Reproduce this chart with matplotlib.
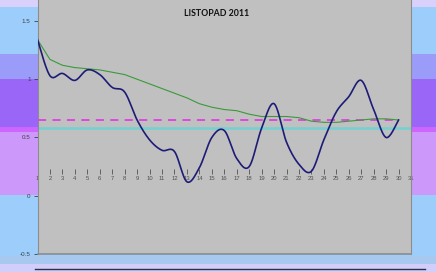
"""
LISTOPAD 2011 - daily index with running mean
"""
import numpy as np
import matplotlib
matplotlib.use('Agg')
import matplotlib.pyplot as plt

# --- data ---
days = list(range(1, 31))
daily = [1.34, 1.03, 1.05, 0.99, 1.08, 1.04, 0.93, 0.89, 0.65, 0.48,
         0.39, 0.38, 0.12, 0.24, 0.50, 0.56, 0.32, 0.25, 0.58, 0.79,
         0.46, 0.27, 0.21, 0.48, 0.72, 0.85, 0.99, 0.74, 0.50, 0.65]
running_mean = [1.34, 1.17, 1.12, 1.10, 1.09, 1.08, 1.06, 1.04, 1.00, 0.96,
                0.92, 0.88, 0.84, 0.79, 0.76, 0.74, 0.73, 0.70, 0.68, 0.68,
                0.68, 0.67, 0.64, 0.63, 0.63, 0.64, 0.65, 0.66, 0.66, 0.65]
month_mean = 0.65
normal_value = 0.58
x_ticks = list(range(1, 32))
y_ticks = [1.5, 1, 0.5, 0, -0.5]
y_labels = ['1.5', '1', '0.5', '0', '-0.5']
title = 'LISTOPAD 2011'

W, H = 436, 272
BG_BANDS = [  # (top px, bottom px, colour) of the coloured backdrop
    (0, 7, '#d9d1fc'),
    (7, 54, '#9dcdfb'),
    (54, 79, '#9b9bfa'),
    (79, 127, '#9966f7'),
    (127, 132, '#cc66ff'),
    (132, 195, '#cc99fb'),
    (195, 256, '#9dcdfb'),
    (256, 264, '#a7c9f0'),
    (264, 272, '#d2cefc'),
]


def smooth(x, y, n=24):
    # excel-like smoothed line: cubic bezier through every point
    x = np.asarray(x, float)
    y = np.asarray(y, float)
    px = np.concatenate([[x[0]], x, [x[-1]]])
    py = np.concatenate([[y[0]], y, [y[-1]]])
    t = np.linspace(0, 1, n)[:, None]
    xs, ys = [], []
    for i in range(1, len(px) - 2):
        p0 = np.array([px[i], py[i]])
        p3 = np.array([px[i + 1], py[i + 1]])
        c1 = p0 + (p3 - np.array([px[i - 1], py[i - 1]])) / 6
        c2 = p3 - (np.array([px[i + 2], py[i + 2]]) - p0) / 6
        pts = ((1 - t) ** 3) * p0 + 3 * ((1 - t) ** 2) * t * c1 \
            + 3 * (1 - t) * t ** 2 * c2 + t ** 3 * p3
        xs.append(pts[:, 0])
        ys.append(pts[:, 1])
    return np.concatenate(xs), np.concatenate(ys)


fig = plt.figure(figsize=(W / 100, H / 100), dpi=100)

bg = fig.add_axes([0, 0, 1, 1], zorder=-1)
bg.set_xlim(0, W)
bg.set_ylim(H, 0)
bg.axis('off')
for top, bot, col in BG_BANDS:
    bg.axhspan(top, bot, color=col, lw=0)
bg.plot([35, 425], [269, 269], color='#303040', lw=1.0)

ax = fig.add_axes([37.5 / W, 1 - 254 / H, 373.5 / W, 254 / H])
ax.set_facecolor('#c0c0c0')
ax.set_xlim(1, 31)
ax.set_ylim(-0.5, 1.68)

ax.axhline(normal_value, color='#72d2d2', lw=1.8, zorder=2)
ax.plot([days[0], days[-1]], [month_mean, month_mean], color='#e040e0',
        lw=1.3, dashes=(4.5, 3.5), zorder=3)
ax.plot(days, running_mean, color='#3a9a3a', lw=0.8, zorder=4)
sx, sy = smooth(days, daily)
ax.plot(sx, sy, color='#1c1c78', lw=1.2, zorder=5)

# frame
for side in ['left', 'right', 'top']:
    ax.spines[side].set_color('#8c8c8c')
    ax.spines[side].set_linewidth(0.8)
ax.spines['top'].set_visible(False)
ax.spines['bottom'].set_position(('data', 0.187))
ax.spines['bottom'].set_color('none')
ax.plot([0, 1], [0, 0], transform=ax.transAxes, color='#8c8c8c', lw=1.2,
        clip_on=False, zorder=6)

ax.set_yticks(y_ticks)
ax.set_yticklabels(y_labels)
ax.tick_params(axis='y', direction='out', length=3, width=0.6, color='#404040',
               labelsize=4.5, labelcolor='#404040', pad=2)
ax.set_xticks(x_ticks)
ax.set_xticklabels([str(d) for d in x_ticks])
ax.tick_params(axis='x', direction='in', length=3.5, width=0.6, color='#505050',
               labelsize=4.2, labelcolor='#505050', pad=1.5)
for lab in ax.get_xticklabels() + ax.get_yticklabels():
    lab.set_family('Liberation Sans')

fig.text(217 / W, 1 - 13 / H, title, ha='center', va='center',
         fontsize=6.3, fontweight='bold', family='Lato', color='#101010')

plt.savefig('out.png', dpi=100)
